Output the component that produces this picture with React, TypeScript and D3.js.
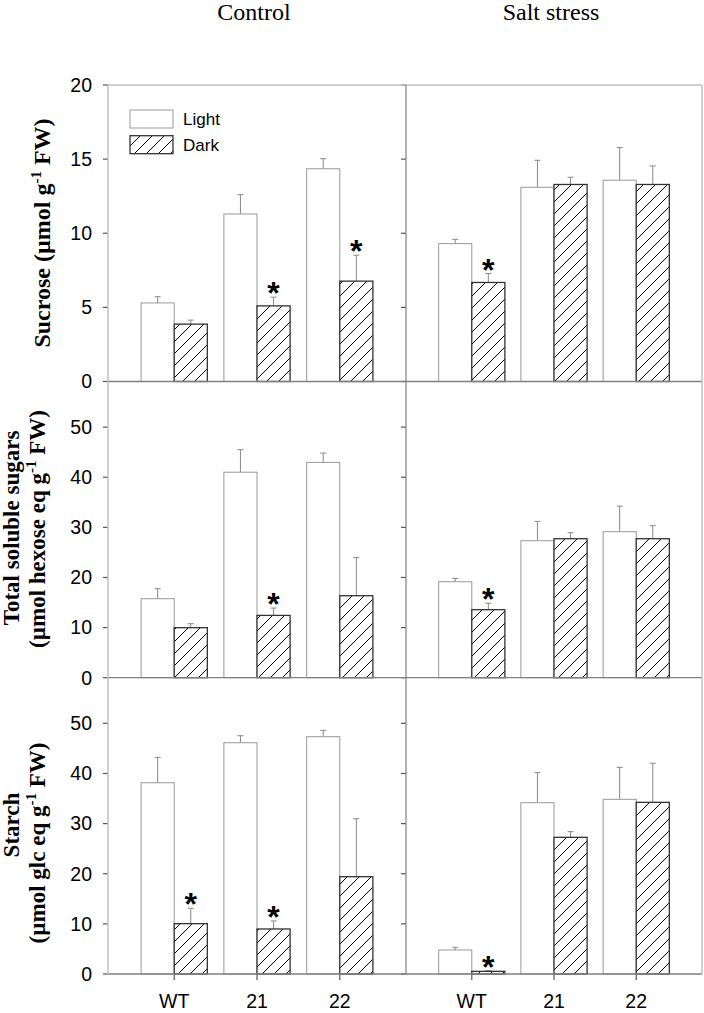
import React from 'react';
import * as d3 from 'd3';

const genotypes = ['WT', '21', '22'];
const conditionTitles = ['Control', 'Salt stress'];
const seriesNames = ['Light', 'Dark'];

// Sucrose (µmol g-1 FW)
const sucroseControlLight = [5.3, 11.3, 14.35];
const sucroseControlLightErr = [0.42, 1.3, 0.68];
const sucroseControlDark = [3.87, 5.1, 6.77];
const sucroseControlDarkErr = [0.27, 0.59, 1.75];
const sucroseControlSig = [false, true, true];
const sucroseSaltLight = [9.3, 13.1, 13.58];
const sucroseSaltLightErr = [0.29, 1.82, 2.2];
const sucroseSaltDark = [6.68, 13.29, 13.29];
const sucroseSaltDarkErr = [0.6, 0.49, 1.25];
const sucroseSaltSig = [true, false, false];

// Total soluble sugars
const tssControlLight = [15.76, 41.0, 42.96];
const tssControlLightErr = [2.0, 4.5, 1.86];
const tssControlDark = [9.98, 12.43, 16.36];
const tssControlDarkErr = [0.8, 1.46, 7.6];
const tssControlSig = [false, true, false];
const tssSaltLight = [19.15, 27.33, 29.13];
const tssSaltLightErr = [0.66, 3.86, 5.1];
const tssSaltDark = [13.57, 27.73, 27.73];
const tssSaltDarkErr = [1.3, 1.2, 2.6];
const tssSaltSig = [true, false, false];

// Starch
const starchControlLight = [38.15, 46.13, 47.33];
const starchControlLightErr = [5.07, 1.4, 1.27];
const starchControlDark = [10.04, 8.98, 19.41];
const starchControlDarkErr = [3.06, 1.6, 11.57];
const starchControlSig = [true, true, false];
const starchSaltLight = [4.79, 34.17, 34.84];
const starchSaltLightErr = [0.53, 6.0, 6.38];
const starchSaltDark = [0.53, 27.26, 34.24];
const starchSaltDarkErr = [0.13, 1.13, 7.8];
const starchSaltSig = [true, false, false];

const sucroseTicks = [0, 5, 10, 15, 20];
const sugarTicks = [0, 10, 20, 30, 40, 50];
const sucroseMax = 20;
const sugarMax = 59.1;

const rows = [
  {
    max: sucroseMax, ticks: sucroseTicks,
    label: [{ main: 'Sucrose (µmol g', sup: '-1', tail: ' FW)' }],
    data: [
      { light: sucroseControlLight, lightErr: sucroseControlLightErr, dark: sucroseControlDark, darkErr: sucroseControlDarkErr, sig: sucroseControlSig },
      { light: sucroseSaltLight, lightErr: sucroseSaltLightErr, dark: sucroseSaltDark, darkErr: sucroseSaltDarkErr, sig: sucroseSaltSig },
    ],
  },
  {
    max: sugarMax, ticks: sugarTicks,
    label: [{ main: 'Total soluble sugars' }, { main: '(µmol hexose eq g', sup: '-1', tail: ' FW)' }],
    data: [
      { light: tssControlLight, lightErr: tssControlLightErr, dark: tssControlDark, darkErr: tssControlDarkErr, sig: tssControlSig },
      { light: tssSaltLight, lightErr: tssSaltLightErr, dark: tssSaltDark, darkErr: tssSaltDarkErr, sig: tssSaltSig },
    ],
  },
  {
    max: sugarMax, ticks: sugarTicks,
    label: [{ main: 'Starch' }, { main: '(µmol glc eq g', sup: '-1', tail: ' FW)' }],
    data: [
      { light: starchControlLight, lightErr: starchControlLightErr, dark: starchControlDark, darkErr: starchControlDarkErr, sig: starchControlSig },
      { light: starchSaltLight, lightErr: starchSaltLightErr, dark: starchSaltDark, darkErr: starchSaltDarkErr, sig: starchSaltSig },
    ],
  },
];

const W = 704, H = 1013;
const colX = [108, 406, 702];
const rowY = [85, 381.5, 677.7, 974];
const labelCenters = [[233], [528, 529], [825, 843]];
const labelX = [[49.5], [18.5, 45], [18.5, 45]];
const labelSize = [24, 23, 23];

const sans = 'Liberation Sans, Arial, sans-serif';
const serif = 'Liberation Serif, Times New Roman, serif';

export default function App() {
  const xScales = [0, 1].map((c) =>
    d3.scalePoint<string>().domain(genotypes).range([colX[c], colX[c + 1]]).padding(0.8)
  );
  const bw = xScales[0].step() * 0.4;

  return (
    <svg width={W} height={H} style={{ position: 'absolute', left: 0, top: 0, background: '#fff' }}>
      <defs>
        <pattern id="hatch" patternUnits="userSpaceOnUse" width={12} height={12}>
          <rect width={12} height={12} fill="#fff" />
          <path d="M-3,3 L3,-3 M0,12 L12,0 M9,15 L15,9" stroke="#000" strokeWidth={1} />
        </pattern>
      </defs>
      {conditionTitles.map((t, i) => (
        <text key={t} x={i === 0 ? 254 : 551} y={20} textAnchor="middle" fontFamily={serif} fontSize={24} fill="#000">{t}</text>
      ))}
      {rows.map((row, r) => {
        const top = rowY[r], bottom = rowY[r + 1];
        const y = d3.scaleLinear().domain([0, row.max]).range([bottom, top]);
        return (
          <g key={r}>
            {row.label.map((l, li) => (
              <text key={li} transform={`translate(${labelX[r][li]},${labelCenters[r][li]}) rotate(-90)`} textAnchor="middle"
                fontFamily={serif} fontWeight="bold" fontSize={labelSize[r]} fill="#000">
                {l.main}
                {l.sup && <tspan dy={-9} fontSize={15}>{l.sup}</tspan>}
                {l.tail && <tspan dy={9}>{l.tail}</tspan>}
              </text>
            ))}
            {row.data.map((d, c) => {
              const x = xScales[c];
              const x0 = colX[c];
              return (
                <g key={c}>
                  {genotypes.map((g, i) => {
                    const cx = x(g)!;
                    const yl = y(d.light[i]);
                    const yle = y(d.light[i] + d.lightErr[i]);
                    const yd = y(d.dark[i]);
                    const yde = y(d.dark[i] + d.darkErr[i]);
                    return (
                      <g key={g}>
                        <line x1={cx - bw / 2} x2={cx - bw / 2} y1={yl} y2={yle} stroke="#888" strokeWidth={1} />
                        <line x1={cx - bw / 2 - 3} x2={cx - bw / 2 + 3} y1={yle} y2={yle} stroke="#888" strokeWidth={1} />
                        <line x1={cx + bw / 2} x2={cx + bw / 2} y1={yd} y2={yde} stroke="#888" strokeWidth={1} />
                        <line x1={cx + bw / 2 - 3} x2={cx + bw / 2 + 3} y1={yde} y2={yde} stroke="#888" strokeWidth={1} />
                        <rect x={cx - bw} y={yl} width={bw} height={bottom - yl} fill="#fff" stroke="#999" strokeWidth={1} />
                        <rect x={cx} y={yd} width={bw} height={bottom - yd} fill="url(#hatch)" stroke="#333" strokeWidth={1.3} />
                        {d.sig[i] && (
                          <text x={cx + bw / 2} y={yde + 7} textAnchor="middle" fontFamily={sans} fontWeight="bold" fontSize={32} fill="#000">*</text>
                        )}
                      </g>
                    );
                  })}
                  {row.ticks.map((t) => (
                    <g key={t}>
                      <line x1={x0 - 5} x2={x0} y1={y(t)} y2={y(t)} stroke="#555" strokeWidth={1.2} />
                      {c === 0 && (
                        <text x={92} y={y(t)} dy="0.35em" textAnchor="end" fontFamily={sans} fontSize={19.5} fill="#000">{t}</text>
                      )}
                    </g>
                  ))}
                  {r === rows.length - 1 && genotypes.map((g) => (
                    <g key={g}>
                      <line x1={x(g)!} x2={x(g)!} y1={bottom} y2={bottom + 6} stroke="#555" strokeWidth={1.2} />
                      <text x={x(g)!} y={1008} textAnchor="middle" fontFamily={sans} fontSize={19.5} fill="#000">{g}</text>
                    </g>
                  ))}
                </g>
              );
            })}
            <line x1={colX[0]} x2={colX[2]} y1={bottom} y2={bottom} stroke="#808080" strokeWidth={1.3} />
          </g>
        );
      })}
      <line x1={colX[0]} x2={colX[2]} y1={rowY[0]} y2={rowY[0]} stroke="#c0c0c0" strokeWidth={1.3} />
      <line x1={colX[0]} x2={colX[0]} y1={rowY[0]} y2={rowY[3]} stroke="#c0c0c0" strokeWidth={1.5} />
      <line x1={colX[1]} x2={colX[1]} y1={rowY[0]} y2={rowY[3]} stroke="#808080" strokeWidth={1.2} />
      <line x1={colX[2]} x2={colX[2]} y1={rowY[0]} y2={rowY[3]} stroke="#c0c0c0" strokeWidth={1.5} />
      {seriesNames.map((s, i) => (
        <g key={s}>
          <rect x={130} y={110 + i * 25.7} width={43} height={18}
            fill={i === 0 ? '#fff' : 'url(#hatch)'} stroke={i === 0 ? '#999' : '#333'} strokeWidth={i === 0 ? 1 : 1.3} />
          <text x={183} y={110 + i * 25.7 + 15} fontFamily={sans} fontSize={17} fill="#000">{s}</text>
        </g>
      ))}
    </svg>
  );
}
